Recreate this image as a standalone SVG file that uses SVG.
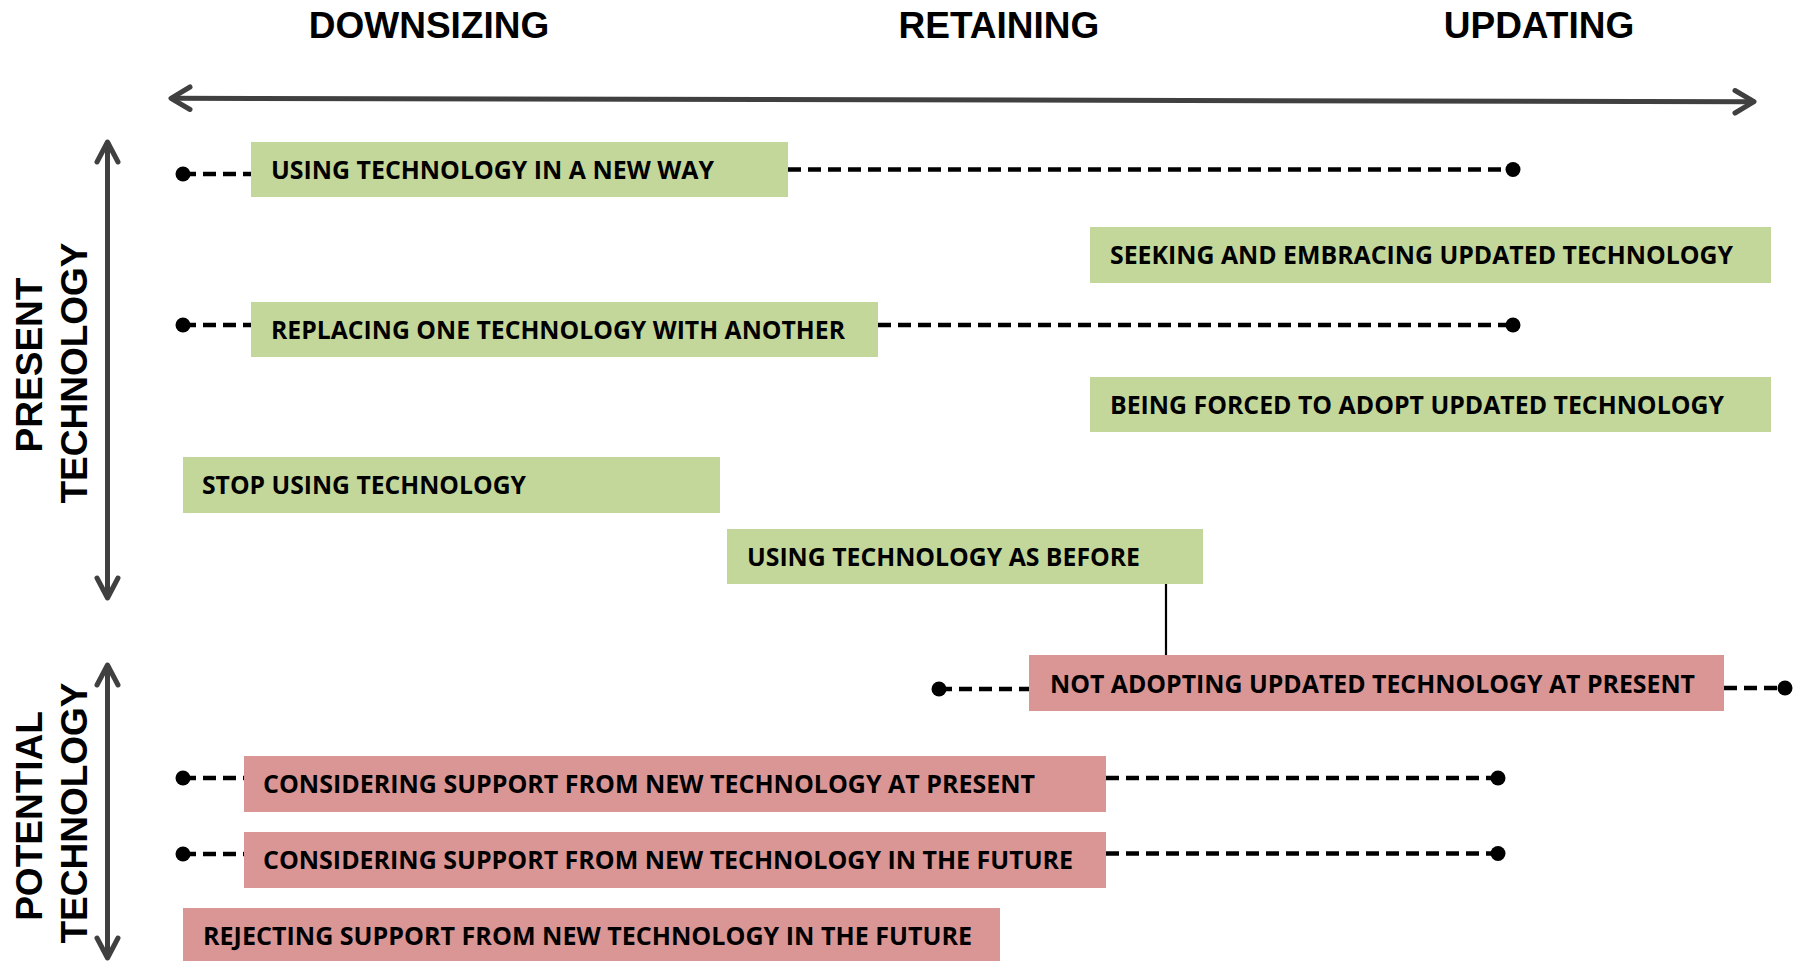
<svg xmlns="http://www.w3.org/2000/svg" width="1810" height="961" viewBox="0 0 1810 961">
<style>
.hd{font-family:"Liberation Sans",Arial,sans-serif;font-weight:bold;font-size:37px;fill:#000}
.vl{font-family:"Liberation Sans",Arial,sans-serif;font-weight:bold;font-size:37px;fill:#000}
.g{fill:#C4D79B}
.r{fill:#DA9694}
.t{font-family:"Open Sans","Noto Sans",sans-serif;font-weight:bold;font-size:25px;fill:#000}
.ax{stroke:#404040;stroke-width:5;fill:none;stroke-linecap:round;stroke-linejoin:round}
.dash{stroke:#000;stroke-width:4.5;stroke-dasharray:13 7;fill:none}
.dot{fill:#000}
</style>
<rect width="1810" height="961" fill="#fff"/>
<g id="headings">
<text class="hd" x="429" y="38" text-anchor="middle">DOWNSIZING</text>
<text class="hd" x="999" y="38" text-anchor="middle">RETAINING</text>
<text class="hd" x="1539" y="38" text-anchor="middle">UPDATING</text>
</g>
<g id="axes">
<line class="ax" x1="172" y1="98.3" x2="1753" y2="101.7"/>
<polyline class="ax" points="190,87 171,98.3 190,109.5"/>
<polyline class="ax" points="1735,90.5 1754,101.7 1735,113"/>
<line class="ax" x1="107.5" y1="144" x2="107.5" y2="596"/>
<polyline class="ax" points="97,162 107.5,142 118,162"/>
<polyline class="ax" points="97,578 107.5,598 118,578"/>
<line class="ax" x1="107.5" y1="667" x2="107.5" y2="956"/>
<polyline class="ax" points="97,685 107.5,665 118,685"/>
<polyline class="ax" points="97,938 107.5,958 118,938"/>
<text class="vl" transform="translate(42,365) rotate(-90)" text-anchor="middle">PRESENT</text>
<text class="vl" transform="translate(87,373) rotate(-90)" text-anchor="middle">TECHNOLOGY</text>
<text class="vl" transform="translate(42,816) rotate(-90)" text-anchor="middle">POTENTIAL</text>
<text class="vl" transform="translate(87,813) rotate(-90)" text-anchor="middle">TECHNOLOGY</text>
</g>
<g id="connectors">
<line class="dash" x1="183" y1="174" x2="251" y2="174"/>
<circle class="dot" cx="183" cy="174" r="7.5"/>
<line class="dash" x1="788" y1="169.5" x2="1513" y2="169.5"/>
<circle class="dot" cx="1513" cy="169.5" r="7.5"/>
<line class="dash" x1="183" y1="325" x2="251" y2="325"/>
<circle class="dot" cx="183" cy="325" r="7.5"/>
<line class="dash" x1="878" y1="325" x2="1513" y2="325"/>
<circle class="dot" cx="1513" cy="325" r="7.5"/>
<line class="dash" x1="939" y1="689" x2="1029" y2="689"/>
<circle class="dot" cx="939" cy="689" r="7.5"/>
<line class="dash" x1="1724" y1="688" x2="1785" y2="688"/>
<circle class="dot" cx="1785" cy="688" r="7.5"/>
<line class="dash" x1="183" y1="778" x2="244" y2="778"/>
<circle class="dot" cx="183" cy="778" r="7.5"/>
<line class="dash" x1="1106" y1="778" x2="1498" y2="778"/>
<circle class="dot" cx="1498" cy="778" r="7.5"/>
<line class="dash" x1="183" y1="854" x2="244" y2="854"/>
<circle class="dot" cx="183" cy="854" r="7.5"/>
<line class="dash" x1="1106" y1="853.5" x2="1498" y2="853.5"/>
<circle class="dot" cx="1498" cy="853.5" r="7.5"/>
<line x1="1166" y1="584" x2="1166" y2="655" stroke="#000" stroke-width="2.2"/>
</g>
<g id="n-new-way">
<rect class="g" x="251" y="142" width="537" height="55"/>
<text class="t" x="271" y="178.5" textLength="443" lengthAdjust="spacingAndGlyphs">USING TECHNOLOGY IN A NEW WAY</text>
</g>
<g id="n-seeking">
<rect class="g" x="1090" y="227" width="681" height="56"/>
<text class="t" x="1110" y="264" textLength="623" lengthAdjust="spacingAndGlyphs">SEEKING AND EMBRACING UPDATED TECHNOLOGY</text>
</g>
<g id="n-replacing">
<rect class="g" x="251" y="302" width="627" height="55"/>
<text class="t" x="271" y="338.5" textLength="574" lengthAdjust="spacingAndGlyphs">REPLACING ONE TECHNOLOGY WITH ANOTHER</text>
</g>
<g id="n-forced">
<rect class="g" x="1090" y="377" width="681" height="55"/>
<text class="t" x="1110" y="413.5" textLength="614" lengthAdjust="spacingAndGlyphs">BEING FORCED TO ADOPT UPDATED TECHNOLOGY</text>
</g>
<g id="n-stop">
<rect class="g" x="183" y="457" width="537" height="56"/>
<text class="t" x="202" y="494" textLength="324" lengthAdjust="spacingAndGlyphs">STOP USING TECHNOLOGY</text>
</g>
<g id="n-as-before">
<rect class="g" x="727" y="529" width="476" height="55"/>
<text class="t" x="747" y="566" textLength="393" lengthAdjust="spacingAndGlyphs">USING TECHNOLOGY AS BEFORE</text>
</g>
<g id="n-not-adopting">
<rect class="r" x="1029" y="655" width="695" height="56"/>
<text class="t" x="1050" y="692.5" textLength="645" lengthAdjust="spacingAndGlyphs">NOT ADOPTING UPDATED TECHNOLOGY AT PRESENT</text>
</g>
<g id="n-considering-present">
<rect class="r" x="244" y="756" width="862" height="56"/>
<text class="t" x="263" y="793" textLength="772" lengthAdjust="spacingAndGlyphs">CONSIDERING SUPPORT FROM NEW TECHNOLOGY AT PRESENT</text>
</g>
<g id="n-considering-future">
<rect class="r" x="244" y="832" width="862" height="56"/>
<text class="t" x="263" y="869" textLength="810" lengthAdjust="spacingAndGlyphs">CONSIDERING SUPPORT FROM NEW TECHNOLOGY IN THE FUTURE</text>
</g>
<g id="n-rejecting">
<rect class="r" x="183" y="908" width="817" height="56"/>
<text class="t" x="203" y="944.5" textLength="769" lengthAdjust="spacingAndGlyphs">REJECTING SUPPORT FROM NEW TECHNOLOGY IN THE FUTURE</text>
</g>
</svg>
